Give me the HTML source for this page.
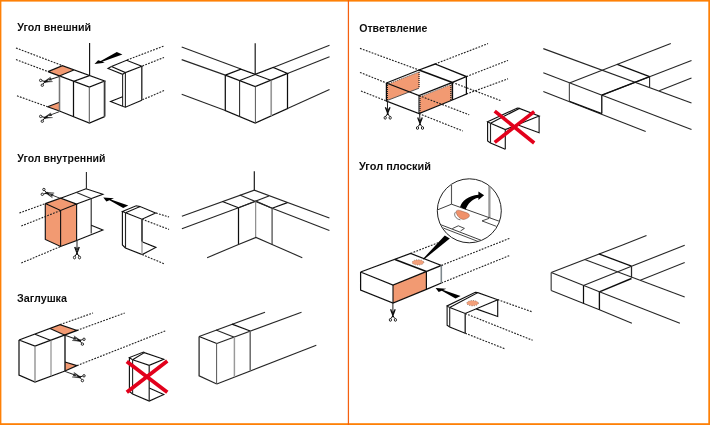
<!DOCTYPE html>
<html lang="ru">
<head>
<meta charset="utf-8">
<title>Аксессуары</title>
<style>
html,body{margin:0;padding:0;background:#fff;}
body{width:710px;height:425px;overflow:hidden;font-family:"Liberation Sans",sans-serif;}
svg{display:block;}
</style>
</head>
<body>
<svg width="710" height="425" viewBox="0 0 710 425">
<rect x="0" y="0" width="710" height="425" fill="#FE8006"/>
<rect x="1.4" y="1.6" width="706.9" height="421.6" fill="#fff"/>
<rect x="347.8" y="0" width="1.25" height="425" fill="#F5600F"/>
<filter id="soft" x="0" y="0" width="710" height="425" filterUnits="userSpaceOnUse"><feGaussianBlur stdDeviation="0.32"/></filter>
<g filter="url(#soft)">
<text x="17.3" y="31" textLength="73.8" lengthAdjust="spacingAndGlyphs" font-family="Liberation Sans, sans-serif" font-weight="bold" font-size="11" fill="#111">Угол внешний</text>
<text x="17.3" y="162" textLength="88.2" lengthAdjust="spacingAndGlyphs" font-family="Liberation Sans, sans-serif" font-weight="bold" font-size="11" fill="#111">Угол внутренний</text>
<text x="17" y="302" textLength="50" lengthAdjust="spacingAndGlyphs" font-family="Liberation Sans, sans-serif" font-weight="bold" font-size="11" fill="#111">Заглушка</text>
<text x="359.2" y="31.6" textLength="68.2" lengthAdjust="spacingAndGlyphs" font-family="Liberation Sans, sans-serif" font-weight="bold" font-size="11" fill="#111">Ответвление</text>
<text x="359" y="169.8" textLength="72" lengthAdjust="spacingAndGlyphs" font-family="Liberation Sans, sans-serif" font-weight="bold" font-size="11" fill="#111">Угол плоский</text>
<!-- ugol vneshniy: cut -->
<polyline points="16,48 62.4,65.6" fill="none" stroke="#222" stroke-width="1.12" stroke-dasharray="1.8 1.3"/>
<polyline points="16,59.6 48,71.6" fill="none" stroke="#222" stroke-width="1.12" stroke-dasharray="1.8 1.3"/>
<polyline points="17,95.8 47.6,106.8" fill="none" stroke="#222" stroke-width="1.12" stroke-dasharray="1.8 1.3"/>
<polygon points="48,71.6 62.4,65.6 73.8,70 59.4,76" fill="#F29A72" stroke="none" stroke-width="1.0"/>
<polygon points="47.6,106.8 59.4,102.2 59.4,111" fill="#F29A72" stroke="none" stroke-width="1.0"/>
<polyline points="89.6,43 89.6,75.6" fill="none" stroke="#111" stroke-width="1.12"/>
<polyline points="48,71.6 62.4,65.6 104.6,81 89.4,87 48,71.6" fill="none" stroke="#111" stroke-width="1.23"/>
<polyline points="47.6,106.8 59.4,102.2" fill="none" stroke="#111" stroke-width="1.12"/>
<polyline points="47.6,106.8 59.4,111" fill="none" stroke="#111" stroke-width="1.12"/>
<polyline points="59.5,76 59.5,111" fill="none" stroke="#777" stroke-width="1.57"/>
<polyline points="59.4,111 89.4,123 104.6,116.6" fill="none" stroke="#111" stroke-width="1.23"/>
<polyline points="104.6,116.6 104.6,81" fill="none" stroke="#3a3a3a" stroke-width="1.79"/>
<polyline points="89.3,87 89.3,123" fill="none" stroke="#555" stroke-width="1.01"/>
<polyline points="89.4,75.6 73.5,81.4 73.5,116.8" fill="none" stroke="#111" stroke-width="1.23"/>
<polyline points="73.8,70 59.4,76" fill="none" stroke="#111" stroke-width="1.12"/>
<g transform="translate(45 81.6) rotate(0) scale(1 1)"><path d="M-0.9,-0.7 L7.6,0 L-0.6,0.9 Z M-1,0 L5.8,-4.7 L0.6,1.1 Z" fill="#111" stroke="#111" stroke-width="0.35" stroke-linejoin="round"/><path d="M0,0 L-3,-0.9 M0,0 L-1.9,2.5" stroke="#111" stroke-width="1" fill="none"/><circle cx="-4.3" cy="-1.2" r="1.2" fill="none" stroke="#111" stroke-width="0.9"/><circle cx="-2.7" cy="3.6" r="1.2" fill="none" stroke="#111" stroke-width="0.9"/></g>
<polyline points="59.4,76.4 49.4,79.8" fill="none" stroke="#222" stroke-width="1.01"/>
<polyline points="51.1,78.1 49.4,79.8 51.8,80.1" fill="none" stroke="#222" stroke-width="1.01"/>
<g transform="translate(45 117.6) rotate(0) scale(1 1)"><path d="M-0.9,-0.7 L7.6,0 L-0.6,0.9 Z M-1,0 L5.8,-4.7 L0.6,1.1 Z" fill="#111" stroke="#111" stroke-width="0.35" stroke-linejoin="round"/><path d="M0,0 L-3,-0.9 M0,0 L-1.9,2.5" stroke="#111" stroke-width="1" fill="none"/><circle cx="-4.3" cy="-1.2" r="1.2" fill="none" stroke="#111" stroke-width="0.9"/><circle cx="-2.7" cy="3.6" r="1.2" fill="none" stroke="#111" stroke-width="0.9"/></g>
<polyline points="59.4,111.6 49.4,115.4" fill="none" stroke="#222" stroke-width="1.01"/>
<polyline points="51.1,113.6 49.4,115.4 51.8,115.6" fill="none" stroke="#222" stroke-width="1.01"/>
<polygon points="94.5,63.9 98.1,60.2 100.7,61.1 116.8,52.1 122.4,54.5 102.2,61.8 104.8,62.7" fill="#000" stroke="none" stroke-width="1.0"/>
<polyline points="127,60 164,46" fill="none" stroke="#222" stroke-width="1.12" stroke-dasharray="1.8 1.3"/>
<polyline points="142.4,66 164,57.4" fill="none" stroke="#222" stroke-width="1.12" stroke-dasharray="1.8 1.3"/>
<polyline points="142.4,99.8 164,90.6" fill="none" stroke="#222" stroke-width="1.12" stroke-dasharray="1.8 1.3"/>
<polyline points="111.4,66.5 126.6,60.3 141.8,66.2 125.4,72.6 111.4,66.5" fill="none" stroke="#111" stroke-width="1.12"/>
<polyline points="111.4,66.5 108,68.4 122.6,74.3 125.4,72.6" fill="none" stroke="#111" stroke-width="1.12"/>
<polyline points="122.6,74.3 122.6,106" fill="none" stroke="#262626" stroke-width="1.12"/>
<polyline points="125.4,72.6 125.4,107.2" fill="none" stroke="#262626" stroke-width="1.12"/>
<polyline points="141.8,66.2 141.8,100.2" fill="none" stroke="#262626" stroke-width="1.34"/>
<polyline points="122.6,96.8 110.6,101.5 123.3,106.5 125.4,107.2 141.8,100.2" fill="none" stroke="#111" stroke-width="1.12"/>
<!-- ugol vneshniy: result -->
<polyline points="181.7,47.1 240.9,69.1" fill="none" stroke="#262626" stroke-width="1.12"/>
<polyline points="181.7,59.6 225.3,75.1" fill="none" stroke="#262626" stroke-width="1.12"/>
<polyline points="181.7,94.3 225.3,110.6" fill="none" stroke="#262626" stroke-width="1.12"/>
<polyline points="329.5,45.2 273.2,67.5" fill="none" stroke="#262626" stroke-width="1.12"/>
<polyline points="329.5,56.7 287.5,73.4" fill="none" stroke="#262626" stroke-width="1.12"/>
<polyline points="329.5,89.5 287.5,108.6" fill="none" stroke="#262626" stroke-width="1.12"/>
<polyline points="255.2,43.3 255.2,74.4" fill="none" stroke="#111" stroke-width="1.12"/>
<polyline points="225.3,75.1 240.9,69.1 255.2,74.4 273.2,67.5 287.5,73.4 255.2,86.6 225.3,75.1" fill="none" stroke="#111" stroke-width="1.23"/>
<polyline points="255.2,74.4 271.3,80.6" fill="none" stroke="#111" stroke-width="1.12"/>
<polyline points="255.2,74.4 239.7,80.6" fill="none" stroke="#111" stroke-width="1.12"/>
<polyline points="225.3,75.1 225.3,110.6 255.2,123 287.5,108.6 287.5,73.4" fill="none" stroke="#111" stroke-width="1.23"/>
<polyline points="255.4,86.6 255.4,123" fill="none" stroke="#555" stroke-width="1.01"/>
<polyline points="239.6,80.6 239.6,117" fill="none" stroke="#262626" stroke-width="1.06"/>
<polyline points="271.2,80.6 271.2,115.8" fill="none" stroke="#999" stroke-width="1.68"/>
<!-- ugol vnutrenniy: cut -->
<polyline points="19.4,213 45.3,203.6" fill="none" stroke="#222" stroke-width="1.12" stroke-dasharray="1.8 1.3"/>
<polyline points="21.3,263 60.6,246.5" fill="none" stroke="#222" stroke-width="1.12" stroke-dasharray="1.8 1.3"/>
<polygon points="45.3,203.6 60.6,198.2 76.6,204.1 76.6,240.6 60.6,246.5 45.3,239.4" fill="#F29A72" stroke="none" stroke-width="1.0"/>
<polyline points="21.3,226 60.6,210.5" fill="none" stroke="#222" stroke-width="1.12" stroke-dasharray="1.8 1.3"/>
<polyline points="86.4,172 86.4,188.8" fill="none" stroke="#262626" stroke-width="1.12"/>
<polyline points="45.3,203.6 60.6,198.2 76.6,204.1 60.6,210.5 45.3,203.6" fill="none" stroke="#111" stroke-width="1.12"/>
<polyline points="45.3,203.6 45.3,239.4 60.6,246.5 76.6,240.6 76.6,204.1" fill="none" stroke="#111" stroke-width="1.12"/>
<polyline points="60.6,210.5 60.6,246.5" fill="none" stroke="#111" stroke-width="1.12"/>
<polyline points="60.6,198.2 86,188.8 102.9,194.2 76.6,204.1" fill="none" stroke="#111" stroke-width="1.12"/>
<polyline points="76.6,192.4 91.2,198.6 91.2,233.5" fill="none" stroke="#262626" stroke-width="1.12"/>
<polyline points="76.6,240.6 102.9,230 91.2,225.3" fill="none" stroke="#111" stroke-width="1.12"/>
<g transform="translate(46.6 193.1) rotate(0) scale(1 -1)"><path d="M-0.9,-0.7 L7.6,0 L-0.6,0.9 Z M-1,0 L5.8,-4.7 L0.6,1.1 Z" fill="#111" stroke="#111" stroke-width="0.35" stroke-linejoin="round"/><path d="M0,0 L-3,-0.9 M0,0 L-1.9,2.5" stroke="#111" stroke-width="1" fill="none"/><circle cx="-4.3" cy="-1.2" r="1.2" fill="none" stroke="#111" stroke-width="0.9"/><circle cx="-2.7" cy="3.6" r="1.2" fill="none" stroke="#111" stroke-width="0.9"/></g>
<polyline points="60.4,198.4 50.8,194.6" fill="none" stroke="#222" stroke-width="1.01"/>
<polyline points="53.3,194.4 50.8,194.6 52.4,196.4" fill="none" stroke="#222" stroke-width="1.01"/>
<g transform="translate(77 253.5)"><path d="M0.6,1 L-2.3,-6.6 M-0.6,1 L2.3,-6.6" stroke="#111" stroke-width="1.3" fill="none"/><path d="M0,0 L-2,2.6 M0,0 L2,2.6" stroke="#111" stroke-width="1" fill="none"/><ellipse cx="-2.5" cy="4" rx="1.1" ry="1.4" fill="none" stroke="#111" stroke-width="0.9"/><ellipse cx="2.5" cy="4" rx="1.1" ry="1.4" fill="none" stroke="#111" stroke-width="0.9"/></g>
<polyline points="77,240.6 77,250" fill="none" stroke="#222" stroke-width="1.01"/>
<polyline points="75.6,247.2 77,250 78.4,247.2" fill="none" stroke="#222" stroke-width="1.01"/>
<polygon points="103.3,197.6 114,198.3 110.9,199.6 128.3,205.6 123.2,207.9 109.5,200.3 106.4,201.5" fill="#000" stroke="none" stroke-width="1.0"/>
<polyline points="156,213 169,217" fill="none" stroke="#222" stroke-width="1.12" stroke-dasharray="1.8 1.3"/>
<polyline points="142,219.2 169,229.4" fill="none" stroke="#222" stroke-width="1.12" stroke-dasharray="1.8 1.3"/>
<polyline points="142.2,254.6 164.6,264" fill="none" stroke="#222" stroke-width="1.12" stroke-dasharray="1.8 1.3"/>
<polyline points="125.6,212.8 140.1,206.6 155.6,213 142,219.2 125.6,212.8" fill="none" stroke="#111" stroke-width="1.12"/>
<polyline points="125.6,212.8 122.4,211.4 136.2,205.8 140.1,206.6" fill="none" stroke="#111" stroke-width="1.12"/>
<polyline points="122.4,211.4 122.4,245 125.4,248 142.2,254.6 155.9,247.4 142,241.8" fill="none" stroke="#111" stroke-width="1.12"/>
<polyline points="125.5,212.8 125.5,248" fill="none" stroke="#262626" stroke-width="1.12"/>
<polyline points="142,219.2 142,241.8" fill="none" stroke="#262626" stroke-width="1.57"/>
<polyline points="142,241.8 142,254.6" fill="none" stroke="#999" stroke-width="1.34"/>
<!-- ugol vnutrenniy: result -->
<polyline points="254.3,171.2 254.3,190.2" fill="none" stroke="#111" stroke-width="1.12"/>
<polyline points="181.9,216.2 254.3,190.2 329.4,218.1" fill="none" stroke="#262626" stroke-width="1.12"/>
<polyline points="181.9,228.8 238.5,207.7 256,201.2 272.1,208.2 329.4,230.5" fill="none" stroke="#262626" stroke-width="1.12"/>
<polyline points="222.4,201.6 238.5,207.7" fill="none" stroke="#111" stroke-width="1.12"/>
<polyline points="287.4,202.6 272.1,208.2" fill="none" stroke="#111" stroke-width="1.12"/>
<polyline points="239.7,195.1 272.1,208.2" fill="none" stroke="#262626" stroke-width="1.12"/>
<polyline points="268.9,195.9 238.5,207.7" fill="none" stroke="#262626" stroke-width="1.12"/>
<polyline points="238.5,207.7 238.5,244.6" fill="none" stroke="#111" stroke-width="1.23"/>
<polyline points="272.1,208.2 272.1,244.6" fill="none" stroke="#555" stroke-width="1.34"/>
<polyline points="255.7,201.2 255.7,237.4" fill="none" stroke="#777" stroke-width="1.01"/>
<polyline points="207.1,257.7 238.5,244.6 256,237.4 272.1,244.6 302.3,257.7" fill="none" stroke="#262626" stroke-width="1.12"/>
<!-- zaglushka: cut -->
<polyline points="60,324.6 93,313" fill="none" stroke="#222" stroke-width="1.12" stroke-dasharray="1.8 1.3"/>
<polyline points="77,330.4 124.7,313" fill="none" stroke="#222" stroke-width="1.12" stroke-dasharray="1.8 1.3"/>
<polyline points="77,365.6 166,330.6" fill="none" stroke="#222" stroke-width="1.12" stroke-dasharray="1.8 1.3"/>
<polygon points="50,328.5 60,324.6 77,330.4 65,335.2" fill="#F29A72" stroke="none" stroke-width="1.0"/>
<polygon points="65,362 77,365.6 65,371" fill="#F29A72" stroke="none" stroke-width="1.0"/>
<polyline points="19,340 60,324.6 77,330.4 35,346 19,340" fill="none" stroke="#111" stroke-width="1.23"/>
<polyline points="19,340 19,375 35,382 65,371 77,365.6 65,362" fill="none" stroke="#111" stroke-width="1.23"/>
<polyline points="35,346 35,382" fill="none" stroke="#777" stroke-width="1.12"/>
<polyline points="35,334.2 51,340.4" fill="none" stroke="#111" stroke-width="1.12"/>
<polyline points="51,340.4 51,376" fill="none" stroke="#888" stroke-width="1.12"/>
<polyline points="65,335.2 65,371" fill="none" stroke="#111" stroke-width="1.34"/>
<polyline points="50,328.5 65,335.2" fill="none" stroke="#111" stroke-width="1.12"/>
<g transform="translate(79.7 340.5) rotate(0) scale(-1 1)"><path d="M-0.9,-0.7 L7.6,0 L-0.6,0.9 Z M-1,0 L5.8,-4.7 L0.6,1.1 Z" fill="#111" stroke="#111" stroke-width="0.35" stroke-linejoin="round"/><path d="M0,0 L-3,-0.9 M0,0 L-1.9,2.5" stroke="#111" stroke-width="1" fill="none"/><circle cx="-4.3" cy="-1.2" r="1.2" fill="none" stroke="#111" stroke-width="0.9"/><circle cx="-2.7" cy="3.6" r="1.2" fill="none" stroke="#111" stroke-width="0.9"/></g>
<polyline points="65,335.2 75.6,338.9" fill="none" stroke="#222" stroke-width="1.01"/>
<polyline points="73.2,339.2 75.6,338.9 73.9,337.1" fill="none" stroke="#222" stroke-width="1.01"/>
<g transform="translate(79.7 377) rotate(0) scale(-1 1)"><path d="M-0.9,-0.7 L7.6,0 L-0.6,0.9 Z M-1,0 L5.8,-4.7 L0.6,1.1 Z" fill="#111" stroke="#111" stroke-width="0.35" stroke-linejoin="round"/><path d="M0,0 L-3,-0.9 M0,0 L-1.9,2.5" stroke="#111" stroke-width="1" fill="none"/><circle cx="-4.3" cy="-1.2" r="1.2" fill="none" stroke="#111" stroke-width="0.9"/><circle cx="-2.7" cy="3.6" r="1.2" fill="none" stroke="#111" stroke-width="0.9"/></g>
<polyline points="65,371.4 75.6,375.3" fill="none" stroke="#222" stroke-width="1.01"/>
<polyline points="73.2,375.6 75.6,375.3 73.9,373.5" fill="none" stroke="#222" stroke-width="1.01"/>
<polyline points="132.6,359.7 144.4,352.6 163.8,359.3 149.2,365.3 132.6,359.7" fill="none" stroke="#111" stroke-width="1.12"/>
<polyline points="132.6,359.7 129.4,357.6 143.5,352.1 144.4,352.6" fill="none" stroke="#111" stroke-width="1.12"/>
<polyline points="129.4,357.6 129.4,391.4 132.6,394 149.2,401.1 163.8,394.6 149.2,387.9" fill="none" stroke="#111" stroke-width="1.12"/>
<polyline points="132.6,359.7 132.6,394" fill="none" stroke="#262626" stroke-width="1.12"/>
<polyline points="149.2,365.3 149.2,401.1" fill="none" stroke="#262626" stroke-width="1.23"/>
<polyline points="126.8,361.5 167.3,392.3" fill="none" stroke="#E2001A" stroke-width="3.81"/>
<polyline points="167.3,361.1 126.8,392.3" fill="none" stroke="#E2001A" stroke-width="3.81"/>
<!-- zaglushka: result -->
<polyline points="199.1,336.5 265,312.2" fill="none" stroke="#262626" stroke-width="1.12"/>
<polyline points="216.8,343.5 301.5,312.2" fill="none" stroke="#262626" stroke-width="1.12"/>
<polyline points="216.8,384 316.3,345.2" fill="none" stroke="#262626" stroke-width="1.12"/>
<polyline points="199.1,336.5 216.8,343.5" fill="none" stroke="#111" stroke-width="1.12"/>
<polyline points="199.1,336.5 199.1,375.8 216.8,384" fill="none" stroke="#262626" stroke-width="1.23"/>
<polyline points="216.6,343.5 216.6,384" fill="none" stroke="#555" stroke-width="1.01"/>
<polyline points="216,330.1 234.4,337.2" fill="none" stroke="#262626" stroke-width="1.12"/>
<polyline points="234.4,337.2 234.4,377" fill="none" stroke="#999" stroke-width="1.46"/>
<polyline points="232,324.2 250.2,331" fill="none" stroke="#111" stroke-width="1.23"/>
<polyline points="250.2,331 250.2,370.6" fill="none" stroke="#666" stroke-width="1.46"/>
<!-- otvetvlenie: cut -->
<polyline points="360,48.4 419,70" fill="none" stroke="#222" stroke-width="1.12" stroke-dasharray="1.8 1.3"/>
<polyline points="360,72.4 386.4,83" fill="none" stroke="#222" stroke-width="1.12" stroke-dasharray="1.8 1.3"/>
<polyline points="361,91 386.4,101" fill="none" stroke="#222" stroke-width="1.12" stroke-dasharray="1.8 1.3"/>
<polyline points="435,64 488,43.6" fill="none" stroke="#222" stroke-width="1.12" stroke-dasharray="1.8 1.3"/>
<polyline points="466.4,76.6 508,60.4" fill="none" stroke="#222" stroke-width="1.12" stroke-dasharray="1.8 1.3"/>
<polyline points="466.4,94 508,78.8" fill="none" stroke="#222" stroke-width="1.12" stroke-dasharray="1.8 1.3"/>
<polygon points="387,84.6 419.4,72.1 419.4,88 387,100.5" fill="#F29A72" stroke="none" stroke-width="1.0"/>
<polygon points="419.8,97 451.6,84.4 451.6,100.3 419.8,113" fill="#F29A72" stroke="none" stroke-width="1.0"/>
<polyline points="452.4,82.4 501.7,101" fill="none" stroke="#222" stroke-width="1.12" stroke-dasharray="1.8 1.3"/>
<polyline points="419,95.6 469.2,114.8" fill="none" stroke="#222" stroke-width="1.12" stroke-dasharray="1.8 1.3"/>
<polyline points="419,113.6 462.9,131" fill="none" stroke="#222" stroke-width="1.12" stroke-dasharray="1.8 1.3"/>
<polyline points="419,70 419,88" fill="none" stroke="#222" stroke-width="1.23" stroke-dasharray="1.1 0.9"/>
<polyline points="450.8,83 450.8,100.6" fill="none" stroke="#222" stroke-width="1.23" stroke-dasharray="1.1 0.9"/>
<polyline points="387.4,83 387.4,100.6" fill="none" stroke="#222" stroke-width="1.23" stroke-dasharray="1.1 0.9"/>
<polyline points="420,96 420,113.4" fill="none" stroke="#222" stroke-width="1.23" stroke-dasharray="1.1 0.9"/>
<polyline points="386.4,100.8 419,88.2" fill="none" stroke="#444" stroke-width="0.9"/>
<polyline points="386.4,83 419,70 435,64 466.4,76.6 452.4,82.4 419,95.6 386.4,83" fill="none" stroke="#111" stroke-width="1.34"/>
<polyline points="387,84.4 419.4,71.8" fill="none" stroke="#333" stroke-width="0.78" stroke-dasharray="1.2 0.9"/>
<polyline points="419.8,96.8 451.8,84.1" fill="none" stroke="#333" stroke-width="0.78" stroke-dasharray="1.2 0.9"/>
<polyline points="419,70 452.4,82.4" fill="none" stroke="#111" stroke-width="1.57"/>
<polyline points="386.4,83 386.4,101 419,113.6 452.4,100 466.4,94 466.4,76.6" fill="none" stroke="#111" stroke-width="1.23"/>
<polyline points="419,95.6 419,113.6" fill="none" stroke="#111" stroke-width="1.12"/>
<polyline points="452.4,82.4 452.4,100" fill="none" stroke="#111" stroke-width="1.46"/>
<polyline points="387.4,101 387.6,111.4" fill="none" stroke="#222" stroke-width="1.01"/>
<polyline points="386.1,108.6 387.6,111.4 388.9,108.6" fill="none" stroke="#222" stroke-width="1.01"/>
<g transform="translate(387.7 113.8)"><path d="M0.6,1 L-2.3,-6.6 M-0.6,1 L2.3,-6.6" stroke="#111" stroke-width="1.3" fill="none"/><path d="M0,0 L-2,2.6 M0,0 L2,2.6" stroke="#111" stroke-width="1" fill="none"/><ellipse cx="-2.5" cy="4" rx="1.1" ry="1.4" fill="none" stroke="#111" stroke-width="0.9"/><ellipse cx="2.5" cy="4" rx="1.1" ry="1.4" fill="none" stroke="#111" stroke-width="0.9"/></g>
<polyline points="419.6,113.6 420,121.6" fill="none" stroke="#222" stroke-width="1.01"/>
<polyline points="418.5,118.9 420,121.6 421.3,118.7" fill="none" stroke="#222" stroke-width="1.01"/>
<g transform="translate(420 124)"><path d="M0.6,1 L-2.3,-6.6 M-0.6,1 L2.3,-6.6" stroke="#111" stroke-width="1.3" fill="none"/><path d="M0,0 L-2,2.6 M0,0 L2,2.6" stroke="#111" stroke-width="1" fill="none"/><ellipse cx="-2.5" cy="4" rx="1.1" ry="1.4" fill="none" stroke="#111" stroke-width="0.9"/><ellipse cx="2.5" cy="4" rx="1.1" ry="1.4" fill="none" stroke="#111" stroke-width="0.9"/></g>
<polyline points="490.5,123.2 519.4,108.4 539.1,115.9 505.3,129.6 490.5,123.2" fill="none" stroke="#111" stroke-width="1.12"/>
<polyline points="490.5,123.2 487.6,121.8 517.3,108 519.4,108.4" fill="none" stroke="#111" stroke-width="1.12"/>
<polyline points="487.6,121.8 487.6,140.9 490.5,143 505.3,149.3" fill="none" stroke="#111" stroke-width="1.12"/>
<polyline points="490.5,123.2 490.5,143" fill="none" stroke="#262626" stroke-width="1.12"/>
<polyline points="505.3,129.6 505.3,149.3" fill="none" stroke="#262626" stroke-width="1.23"/>
<polyline points="539.1,115.9 539.1,132.8 518.7,125.3" fill="none" stroke="#111" stroke-width="1.12"/>
<polyline points="494.7,111.2 534.2,143" fill="none" stroke="#E2001A" stroke-width="3.58"/>
<polyline points="534.2,111.6 494.7,142.3" fill="none" stroke="#E2001A" stroke-width="3.58"/>
<!-- otvetvlenie: result -->
<polyline points="543.3,48.6 691.5,103" fill="none" stroke="#262626" stroke-width="1.12"/>
<polyline points="543.3,72.7 691.5,129.6" fill="none" stroke="#262626" stroke-width="1.12"/>
<polyline points="543.3,91.6 645.7,131.4" fill="none" stroke="#262626" stroke-width="1.12"/>
<polyline points="569.4,83 670.8,43.5" fill="none" stroke="#262626" stroke-width="1.12"/>
<polyline points="601.8,95.2 691.5,60.5" fill="none" stroke="#262626" stroke-width="1.12"/>
<polyline points="659.2,90.8 691.5,77.9" fill="none" stroke="#262626" stroke-width="1.12"/>
<polyline points="617.3,64.4 649.6,76.6" fill="none" stroke="#111" stroke-width="1.23"/>
<polyline points="569.4,83 569.4,101.2" fill="none" stroke="#555" stroke-width="1.23"/>
<polyline points="601.8,95.2 601.8,113.6" fill="none" stroke="#111" stroke-width="1.34"/>
<polyline points="649.6,76.6 649.6,87" fill="none" stroke="#262626" stroke-width="1.12"/>
<polyline points="601.8,95.2 649.6,76.6" fill="none" stroke="#111" stroke-width="1.34"/>
<polyline points="569.4,101.2 601.8,113.6" fill="none" stroke="#111" stroke-width="1.23"/>
<!-- ugol ploskiy: cut -->
<polyline points="410.6,253.4 440,242" fill="none" stroke="#222" stroke-width="1.12" stroke-dasharray="1.8 1.3"/>
<polyline points="441.4,265.4 509.4,238.4" fill="none" stroke="#222" stroke-width="1.12" stroke-dasharray="1.8 1.3"/>
<polyline points="441.4,283 509.4,255.6" fill="none" stroke="#222" stroke-width="1.12" stroke-dasharray="1.8 1.3"/>
<polygon points="393,285 426.4,271.6 426.4,289.4 393,303" fill="#F29A72" stroke="none" stroke-width="1.0"/>
<polyline points="360.6,272 410.6,253.4 441.4,265.4 393,285 360.6,272" fill="none" stroke="#111" stroke-width="1.23"/>
<polyline points="395,259.4 426.4,271.6" fill="none" stroke="#111" stroke-width="1.57"/>
<polyline points="360.6,272 360.6,290 393,303 426.4,289.4 441.4,283" fill="none" stroke="#111" stroke-width="1.23"/>
<polyline points="441.3,283 441.3,265.4" fill="none" stroke="#7d878c" stroke-width="1.57"/>
<polyline points="393,285 393,303" fill="none" stroke="#111" stroke-width="1.12"/>
<polyline points="426.4,271.6 426.4,289.4" fill="none" stroke="#111" stroke-width="1.23"/>
<ellipse cx="418" cy="262.4" rx="5.8" ry="2.7" fill="#F3A07A" stroke="#4a4a4a" stroke-width="0.7" stroke-dasharray="0.8 1.5"/>
<polyline points="392.9,303 392.9,313.6" fill="none" stroke="#222" stroke-width="1.01"/>
<polyline points="391.5,310.8 392.9,313.6 394.3,310.8" fill="none" stroke="#222" stroke-width="1.01"/>
<g transform="translate(392.9 315.9)"><path d="M0.6,1 L-2.3,-6.6 M-0.6,1 L2.3,-6.6" stroke="#111" stroke-width="1.3" fill="none"/><path d="M0,0 L-2,2.6 M0,0 L2,2.6" stroke="#111" stroke-width="1" fill="none"/><ellipse cx="-2.5" cy="4" rx="1.1" ry="1.4" fill="none" stroke="#111" stroke-width="0.9"/><ellipse cx="2.5" cy="4" rx="1.1" ry="1.4" fill="none" stroke="#111" stroke-width="0.9"/></g>
<polygon points="422.9,258.9 423.9,259.5 449.8,238.6 444.8,235.6" fill="#000" stroke="none" stroke-width="1.0"/>
<circle cx="469.3" cy="210.8" r="32" fill="#fff" stroke="#222" stroke-width="1"/>
<clipPath id="cc"><circle cx="469.3" cy="210.8" r="31.5"/></clipPath>
<g clip-path="url(#cc)">
<polyline points="451.5,178 451.5,204.2" fill="none" stroke="#555" stroke-width="1.12"/>
<polyline points="489.4,178 489.4,218" fill="none" stroke="#999" stroke-width="2.24"/>
<polyline points="430,212.9 451.5,204.2 505,223.3" fill="none" stroke="#333" stroke-width="0.95"/>
<polyline points="489,218.4 482,220.9 497,226.6" fill="none" stroke="#333" stroke-width="0.9"/>
<polyline points="434,222.1 486,242.2" fill="none" stroke="#333" stroke-width="0.95"/>
<polyline points="438,226 482,243" fill="none" stroke="#333" stroke-width="0.9"/>
<polyline points="452.3,228.6 458.3,225.8 464.4,228.4 460.5,231" fill="none" stroke="#333" stroke-width="0.9"/>
<path d="M455.4,212.2 C453.4,214.6 455.6,219.2 460.4,219.8" fill="#fff" stroke="#333" stroke-width="0.7"/>
<path d="M456.3,210.9 C457.5,209.8 459.5,210.2 461,210.8 C464,212 467.5,212.6 469,214.2 C470,215.6 469.2,217.2 467.6,218 C466,219 464.5,219.6 462.9,219.4 C460.8,219 459.2,217.8 458.2,216.5 C456.8,214.8 455.6,212 456.3,210.9 Z" fill="#F0916A" stroke="#7a4a38" stroke-width="0.4"/>
<path d="M460.1,207.1 C461.5,201 468.5,195.8 478.4,194.7 L478.4,191.4 L484.1,195.2 L478.4,200.1 L478.4,197.7 C472.3,198.7 467.6,203.8 465.7,209.5 Z" fill="#000"/>
</g>
<polygon points="435.6,288.1 446.3,288.8 443.2,290.1 460.6,296.1 455.5,298.4 441.8,290.8 438.7,292" fill="#000" stroke="none" stroke-width="1.0"/>
<polyline points="497.7,299.7 532.6,312" fill="none" stroke="#222" stroke-width="1.12" stroke-dasharray="1.8 1.3"/>
<polyline points="465.2,313.5 532.6,340.3" fill="none" stroke="#222" stroke-width="1.12" stroke-dasharray="1.8 1.3"/>
<polyline points="465.2,333.2 505.3,349" fill="none" stroke="#222" stroke-width="1.12" stroke-dasharray="1.8 1.3"/>
<polyline points="449.7,307.6 477.9,292.6 497.7,299.7 465.2,313.5 449.7,307.6" fill="none" stroke="#111" stroke-width="1.12"/>
<polyline points="449.7,307.6 447.1,305.9 475.3,292.3 477.9,292.6" fill="none" stroke="#111" stroke-width="1.12"/>
<polyline points="447.1,305.9 447.1,325.3 449.7,327 465.2,333.2" fill="none" stroke="#111" stroke-width="1.12"/>
<polyline points="449.7,307.6 449.7,327" fill="none" stroke="#262626" stroke-width="1.12"/>
<polyline points="465.2,313.5 465.2,333.2" fill="none" stroke="#262626" stroke-width="1.34"/>
<polyline points="497.7,299.7 497.7,316.5 476.2,308.9" fill="none" stroke="#111" stroke-width="1.12"/>
<ellipse cx="472.6" cy="303.2" rx="5.8" ry="2.7" fill="#F3A07A" stroke="#4a4a4a" stroke-width="0.7" stroke-dasharray="0.8 1.5"/>
<!-- ugol ploskiy: result -->
<polyline points="551.2,272.4 622.6,245 646.5,235.4" fill="none" stroke="#262626" stroke-width="1.12"/>
<polyline points="551.2,272.4 599.4,291.8" fill="none" stroke="#262626" stroke-width="1.12"/>
<polyline points="551.2,272.4 551.2,290.5" fill="none" stroke="#555" stroke-width="1.34"/>
<polyline points="551.2,290.5 599.4,309.8 631.9,323.3" fill="none" stroke="#262626" stroke-width="1.12"/>
<polyline points="583.5,285.6 583.5,303.6" fill="none" stroke="#111" stroke-width="1.23"/>
<polyline points="599.4,291.8 599.4,309.8" fill="none" stroke="#111" stroke-width="1.34"/>
<polyline points="631.5,266.2 631.5,277.6" fill="none" stroke="#262626" stroke-width="1.23"/>
<polyline points="598.8,253.8 631.5,266.2" fill="none" stroke="#111" stroke-width="1.23"/>
<polyline points="583.5,285.6 631.5,266.2 684.7,245.3" fill="none" stroke="#262626" stroke-width="1.12"/>
<polyline points="584.7,259.5 684.7,297" fill="none" stroke="#262626" stroke-width="1.12"/>
<polyline points="599.4,291.8 631.5,278.5" fill="none" stroke="#111" stroke-width="1.46"/>
<polyline points="599.4,291.8 679.9,323.3" fill="none" stroke="#262626" stroke-width="1.12"/>
<polyline points="640.3,280.3 684.7,262.6" fill="none" stroke="#262626" stroke-width="1.12"/>
</g>
</svg>
</body>
</html>
